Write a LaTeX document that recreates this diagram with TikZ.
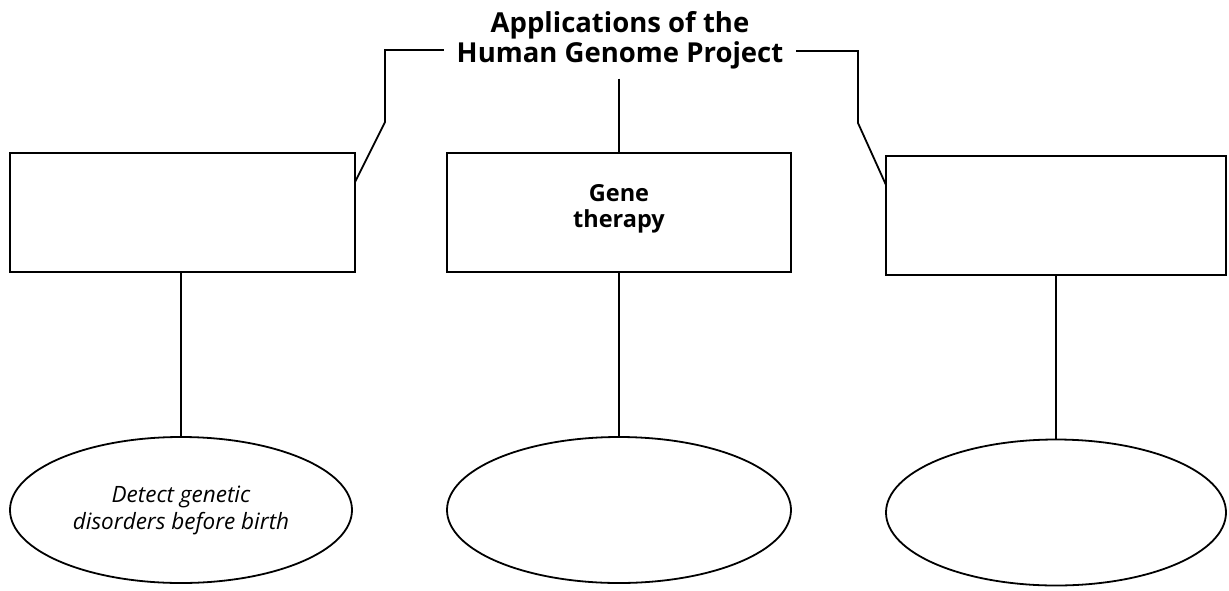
\documentclass[tikz,border=0pt]{standalone}
\usepackage{fontspec}
\setmainfont{Open Sans}
\usetikzlibrary{shapes.geometric}
\begin{document}
\begin{tikzpicture}[x=1pt,y=-1pt,line width=1.8pt,
  titletext/.style={font=\fontsize{27.5}{29}\selectfont\bfseries, inner xsep=12pt, inner ysep=9pt},
  boxtext/.style={font=\fontsize{23.5}{26}\selectfont\bfseries, align=center, inner sep=0pt},
  answerbox/.style={draw, rectangle, inner sep=0pt, minimum height=119pt},
  answerell/.style={draw, ellipse, inner sep=0pt, minimum height=146pt, align=center,
    font=\fontsize{22.5}{27}\selectfont\itshape}]
\useasboundingbox (0,0) rectangle (1229,590);

% title
\node[titletext, anchor=base] (title1) at (620,32) {Applications of the};
\node[titletext, anchor=base] (title2) at (620,62) {Human Genome Project};

% boxes
\node[answerbox, minimum width=345pt] (lbox) at (182.5,212.5) {};
\node[answerbox, minimum width=344pt] (cbox) at (619,212.5) {};
\node[answerbox, minimum width=340pt] (rbox) at (1056,215.5) {};
\node[boxtext] (gt) at (619,209) {Gene\\therapy};

% ellipses
\node[answerell, minimum width=342pt] (lell) at (181,510) {Detect genetic\\disorders before birth};
\node[answerell, minimum width=344pt] (cell) at (619,510) {};
\node[answerell, minimum width=340pt] (rell) at (1056,512.5) {};

% connector bends
\coordinate (lk1) at (385,50);
\coordinate (lk2) at (385,122);
\coordinate (lk3) at (355,182);
\coordinate (rk1) at (858,51);
\coordinate (rk2) at (858,123);
\coordinate (rk3) at (886,185);

\draw (title2.west |- lk1) -- (lk1) -- (lk2) -- (lk3);
\draw (title2.east |- rk1) -- (rk1) -- (rk2) -- (rk3);
\draw (cbox.north |- title2.south) -- (cbox.north);

\draw (lell.north |- lbox.south) -- (lell.north);
\draw (cbox.south) -- (cell.north);
\draw (rbox.south) -- (rell.north);
\end{tikzpicture}
\end{document}
